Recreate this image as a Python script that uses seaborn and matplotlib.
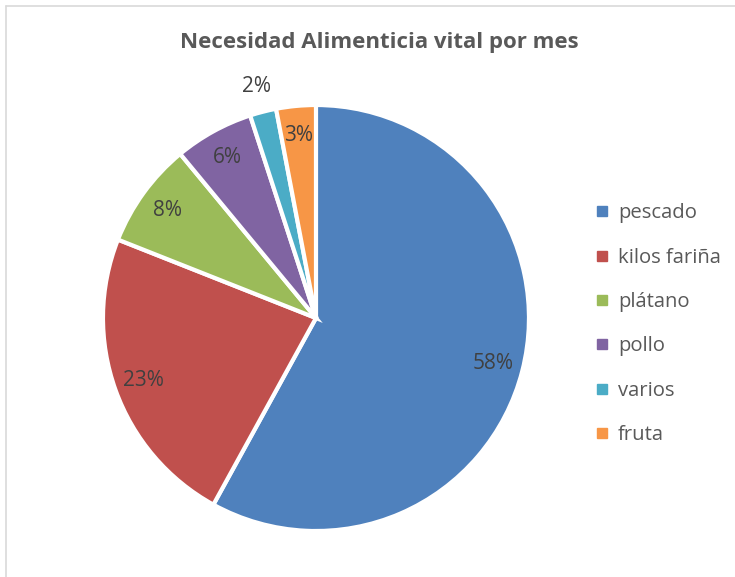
import matplotlib
matplotlib.use("Agg")
import matplotlib.pyplot as plt
from matplotlib.lines import Line2D
import seaborn as sns

# Data
categories = ["pescado", "kilos fariña", "plátano", "pollo", "varios", "fruta"]
values = [58, 23, 8, 6, 2, 3]
colors = ["#4F81BD", "#C0504D", "#9BBB59", "#8064A2", "#4BACC6", "#F79646"]
title = "Necesidad Alimenticia vital por mes"

sns.set_style("white")
plt.rcParams["font.family"] = ["Open Sans", "DejaVu Sans"]

fig = plt.figure(figsize=(7.35, 5.77), dpi=100)

# pie axes placed so the pie fills it (radius 1 -> axes edge)
ax = fig.add_axes([0.1401, 0.0797, 0.5796, 0.7383])
wedges, texts, autotexts = ax.pie(
    values,
    colors=colors,
    startangle=90,
    counterclock=False,
    autopct="%1.0f%%",
    pctdistance=0.86,
    wedgeprops=dict(edgecolor="white", linewidth=3),
    textprops=dict(fontsize=15, color="#404040"),
)
ax.set_xlim(-1, 1)
ax.set_ylim(-1, 1)
ax.set_aspect("equal")

# small slice label sits outside the pie
i = categories.index("varios")
x, y = autotexts[i].get_position()
autotexts[i].set_position((x / 0.86 * 1.12, y / 0.86 * 1.12))

fig.text(0.516, 0.927, title, ha="center", va="center",
         fontsize=16, fontweight="bold", color="#595959")

handles = [Line2D([0], [0], marker="s", linestyle="", markersize=7,
                  markerfacecolor=c, markeredgecolor=c) for c in colors]
fig.legend(handles, categories, loc="upper left",
           bbox_to_anchor=(0.795, 0.665), frameon=False,
           fontsize=14.6, labelcolor="#595959", handlelength=0.7,
           handletextpad=0.45, labelspacing=1.2, borderpad=0)

# chart frame (only left and top visible in the crop)
fig.add_artist(Line2D([6 / 735, 6 / 735], [0, 1 - 6 / 577], color="#D9D9D9", lw=1.2))
fig.add_artist(Line2D([6 / 735, 1], [1 - 6 / 577, 1 - 6 / 577], color="#D9D9D9", lw=1.2))

plt.savefig("out.png", dpi=100)
